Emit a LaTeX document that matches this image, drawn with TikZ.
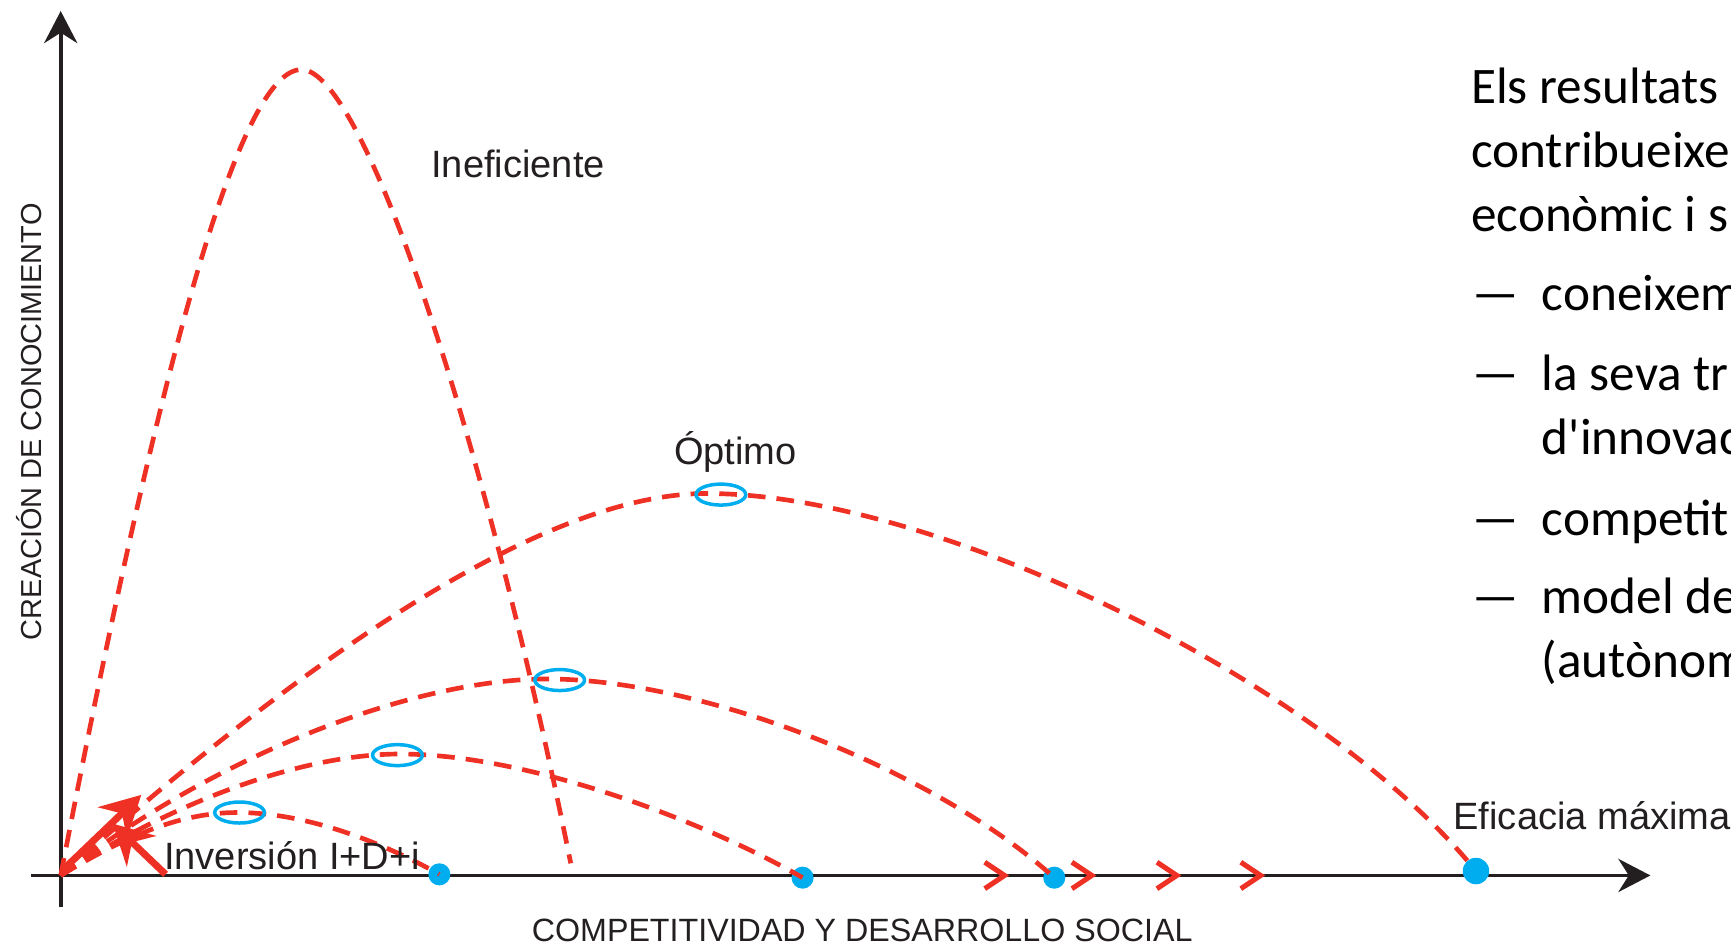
\documentclass[tikz,border=0pt]{standalone}
\usepackage{fontspec}
\setmainfont{Carlito}
\newfontfamily\axisfont{Liberation Sans}
\usetikzlibrary{arrows.meta,shapes.geometric}
\definecolor{curvered}{RGB}{238,49,36}
\definecolor{dotblue}{RGB}{0,174,239}
\definecolor{labelgray}{RGB}{35,31,32}

\begin{document}
\begin{tikzpicture}[x=0.01cm,y=-0.01cm,
    curve/.style={curvered,line width=1.2pt,dash pattern=on 0.16cm off 0.10cm},
    ring/.style={ellipse,draw=dotblue,line width=0.9pt,inner sep=0pt,minimum width=0.45cm,minimum height=0.19cm},
    dot/.style={circle,fill=dotblue,inner sep=0pt,minimum size=0.2cm},
    push/.style={curvered,line width=1.8pt,-{Stealth[length=0.36cm,width=0.38cm]}},
    chev/.style={curvered,line width=1.3pt},
    lbl/.style={labelgray,font=\axisfont\fontsize{9.8}{12}\selectfont,anchor=base west,inner sep=0pt},
    axlbl/.style={labelgray,font=\axisfont\fontsize{8.3}{10}\selectfont,anchor=base,inner sep=0pt},
    txt/.style={font=\fontsize{13.2}{16.5}\selectfont,anchor=base west,inner sep=0pt}]
      \clip (0,0) rectangle (1568,856);
      \coordinate (o) at (55,793);
      \coordinate (xa) at (28,793);
      \coordinate (xb) at (1495,793);
      \coordinate (ya) at (55,822);
      \coordinate (yb) at (55,10);
      \draw[line width=1pt,-{Stealth[length=0.29cm,width=0.3cm]},labelgray] (xa) -- (xb);
      \draw[line width=1pt,-{Stealth[length=0.29cm,width=0.3cm]},labelgray] (ya) -- (yb);
      \foreach \x in {910,989,1066,1142}
        \draw[chev] (\x-18,781) -- (\x,793) -- (\x-18,805);
      \node[dot] (d1) at (398,792) {};
      \node[dot] (d2) at (727,795) {};
      \node[dot] (d3) at (955,795) {};
      \node[dot,minimum size=0.24cm] (d4) at (1337,789) {};
      \coordinate (pi) at (273,63);
      \coordinate (ie) at (517,782);
      \coordinate (p2) at (640,447);
      \coordinate (p3) at (495,615);
      \coordinate (p4) at (362,683);
      \coordinate (p5) at (215,736);
      \draw[curve] (o) .. controls (150,300) and (220,63) .. (pi) .. controls (330,63) and (440,400) .. (ie);
      \draw[curve] (o) .. controls (250,620) and (480,447) .. (p2) .. controls (850,447) and (1200,620) .. (d4.center);
      \draw[curve] (o) .. controls (200,680) and (380,615) .. (p3) .. controls (640,615) and (850,700) .. (d3.center);
      \draw[curve] (o) .. controls (150,730) and (270,683) .. (p4) .. controls (480,683) and (640,745) .. (d2.center);
      \draw[curve] (o) .. controls (110,760) and (160,736) .. (p5) .. controls (280,736) and (350,765) .. (d1.center);
      \node[dot] at (d4) {};
      \node[ring] (r1) at (653,448) {};
      \node[ring] (r2) at (507,616) {};
      \node[ring] (r3) at (360,684) {};
      \node[ring] (r4) at (217,736) {};
      \coordinate (a1) at (58,787);
      \coordinate (a1t) at (128,720);
      \coordinate (a2) at (150,792);
      \coordinate (a2t) at (102,746);
      \draw[push] (a1) -- (a1t);
      \draw[push] (a2) -- (a2t);
      \node[lbl] (inef) at (390,161) {Ineficiente};
      \node[lbl] (opt) at (610,421) {Óptimo};
      \node[lbl] (efic) at (1316,751) {Eficacia máxima};
      \node[lbl] (inv) at (148,788) {Inversión I+D+i};
      \node[axlbl] (xl) at (781,853) {COMPETITIVIDAD Y DESARROLLO SOCIAL};
      \node[axlbl,rotate=90,font=\axisfont\fontsize{7.45}{9}\selectfont] (yl) at (38,382) {CREACIÓN DE CONOCIMIENTO};
      \node[txt] (t1) at (1332,94) {Els resultats};
      \node[txt] (t2) at (1332,152) {contribueixe};
      \node[txt] (t3) at (1332,210) {econòmic i s};
      \node[txt] (b1) at (1333,281) {—};
      \node[txt] (t4) at (1396,281) {coneixem};
      \node[txt] (b2) at (1333,354) {—};
      \node[txt] (t5) at (1396,354) {la seva tr};
      \node[txt] (t6) at (1396,412) {d\textquotesingle innovac};
      \node[txt] (b3) at (1333,485) {—};
      \node[txt] (t7) at (1396,485) {competit};
      \node[txt] (b4) at (1333,556) {—};
      \node[txt] (t8) at (1396,556) {model de};
      \node[txt] (t9) at (1396,614) {(autònom};
    \end{tikzpicture}
\end{document}
